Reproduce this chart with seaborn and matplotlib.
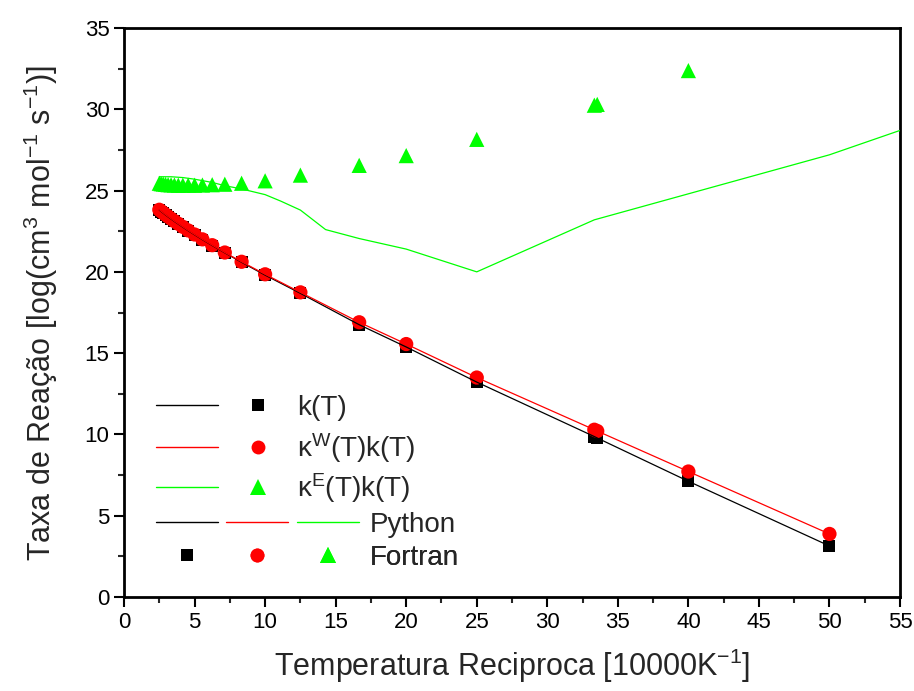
import matplotlib
matplotlib.use('Agg')
import matplotlib.pyplot as plt
import seaborn as sns
from matplotlib.lines import Line2D
from matplotlib.legend_handler import HandlerTuple
from matplotlib.ticker import MultipleLocator

# reciprocal temperature (10000/T) used by the Fortran run
x_fortran = [2.5, 2.632, 2.778, 2.941, 3.125, 3.333, 3.571, 3.846, 4.167, 4.545,
             5.0, 5.556, 6.25, 7.143, 8.333, 10.0, 12.5, 16.667, 20.0, 25.0,
             33.333, 33.540, 40.0, 50.0]

# log10 rate constants
k_fortran = [23.80, 23.71, 23.61, 23.50, 23.38, 23.25, 23.10, 22.94, 22.75, 22.53,
             22.28, 21.98, 21.62, 21.17, 20.59, 19.80, 18.68, 16.75, 15.38, 13.22,
             9.87, 9.78, 7.12, 3.14]
kw_fortran = [23.82, 23.73, 23.63, 23.52, 23.40, 23.27, 23.12, 22.96, 22.77, 22.55,
              22.30, 22.00, 21.64, 21.19, 20.62, 19.85, 18.74, 16.90, 15.56, 13.50,
              10.29, 10.21, 7.72, 3.88]
x_ke_fortran = [2.5, 2.632, 2.778, 2.941, 3.125, 3.333, 3.571, 3.846, 4.167, 4.545,
                5.0, 5.556, 6.25, 7.143, 8.333, 10.0, 12.5, 16.667, 20.0, 25.0,
                33.333, 33.540, 40.0]
ke_fortran = [25.45, 25.42, 25.40, 25.38, 25.36, 25.35, 25.34, 25.33, 25.33, 25.33,
              25.33, 25.34, 25.36, 25.39, 25.45, 25.60, 25.95, 26.55, 27.15, 28.15,
              30.25, 30.30, 32.38]

# Python run
x_python = list(x_fortran)
k_python = list(k_fortran)
kw_python = list(kw_fortran)
x_ke_python = [2.5, 3.333, 4.167, 5.0, 6.25, 7.143, 8.333, 10.0, 11.111, 12.5,
               14.286, 16.667, 20.0, 25.0, 33.333, 50.0, 55.0]
ke_python = [25.85, 25.85, 25.8, 25.7, 25.5, 25.3, 25.1, 24.75, 24.35, 23.8,
             22.6, 22.05, 21.4, 20.0, 23.2, 27.2, 28.7]

sns.set_style('ticks')
plt.rcParams['font.family'] = ['Liberation Sans', 'DejaVu Sans']
plt.rcParams['mathtext.fontset'] = 'custom'
plt.rcParams['mathtext.rm'] = 'Liberation Sans'
plt.rcParams['mathtext.it'] = 'Liberation Sans'
plt.rcParams['mathtext.bf'] = 'Liberation Sans:bold'
plt.rcParams['mathtext.default'] = 'regular'

fig = plt.figure(figsize=(9.14, 6.91), dpi=100)
ax = fig.add_axes([0.1357, 0.136, 0.849, 0.8235])

# Fortran markers
sns.scatterplot(x=x_fortran, y=k_fortran, marker='s', s=75, color='black',
                edgecolor='none', ax=ax, zorder=2)
sns.scatterplot(x=x_fortran, y=kw_fortran, marker='o', s=105, color='#ff0000',
                edgecolor='none', ax=ax, zorder=2)
sns.scatterplot(x=x_ke_fortran, y=ke_fortran, marker='^', s=120, color='#00ff00',
                edgecolor='none', ax=ax, zorder=2)

# Python lines
sns.lineplot(x=x_python, y=k_python, color='black', lw=0.9, ax=ax, zorder=3)
sns.lineplot(x=x_python, y=kw_python, color='#ff0000', lw=0.9, ax=ax, zorder=3)
sns.lineplot(x=x_ke_python, y=ke_python, color='#00ff00', lw=0.9, ax=ax, zorder=3)

ax.set_xlim(0, 55)
ax.set_ylim(0, 35)
ax.xaxis.set_major_locator(MultipleLocator(5))
ax.xaxis.set_minor_locator(MultipleLocator(2.5))
ax.yaxis.set_major_locator(MultipleLocator(5))
ax.yaxis.set_minor_locator(MultipleLocator(2.5))
ax.tick_params(which='major', direction='out', length=7, width=1.5, labelsize=16,
               top=False, right=False, colors='black')
ax.tick_params(which='minor', direction='out', length=4, width=1.5,
               top=False, right=False)
for sp in ax.spines.values():
    sp.set_linewidth(2)
    sp.set_color('black')
    sp.set_visible(True)

ax.set_xlabel(r'Temperatura Reciproca [10000K$^{-1}$]', fontsize=22, labelpad=10)
ax.set_ylabel(r'Taxa de Reação [log(cm$^{3}$ mol$^{-1}$ s$^{-1}$)]', fontsize=22, labelpad=18)

# custom legend, one row at a time
def line_h(c):
    return Line2D([], [], color=c, lw=1)

def mark_h(c, m, ms):
    return Line2D([], [], color=c, marker=m, markersize=ms, linestyle='none',
                  markeredgewidth=0)

sq = ('black', 's', 8.5)
ci = ('#ff0000', 'o', 10)
tr = ('#00ff00', '^', 11)

rows = [
    ((line_h('black'), mark_h(*sq)), 'k(T)', 0.332, 4.78, 0.3),
    ((line_h('#ff0000'), mark_h(*ci)), r'κ$^{W}$(T)k(T)', 0.262, 4.78, 0.3),
    ((line_h('#00ff00'), mark_h(*tr)), r'κ$^{E}$(T)k(T)', 0.1916, 4.78, 0.3),
    ((line_h('black'), line_h('#ff0000'), line_h('#00ff00')), 'Python', 0.127, 7.3, 0.4),
    ((mark_h(*sq), mark_h(*ci), mark_h(*tr)), 'Fortran', 0.0685, 7.3, 0.4),
]
for handles, label, y, hlen, tpad in rows:
    leg = ax.legend([handles], [label],
                    handler_map={tuple: HandlerTuple(ndivide=None, pad=0.32)},
                    loc='center left', bbox_to_anchor=(0.041, y), frameon=False,
                    fontsize=20, handlelength=hlen, handletextpad=tpad,
                    borderpad=0, borderaxespad=0, numpoints=1)
    ax.add_artist(leg)

fig.savefig('out.png', dpi=100)
